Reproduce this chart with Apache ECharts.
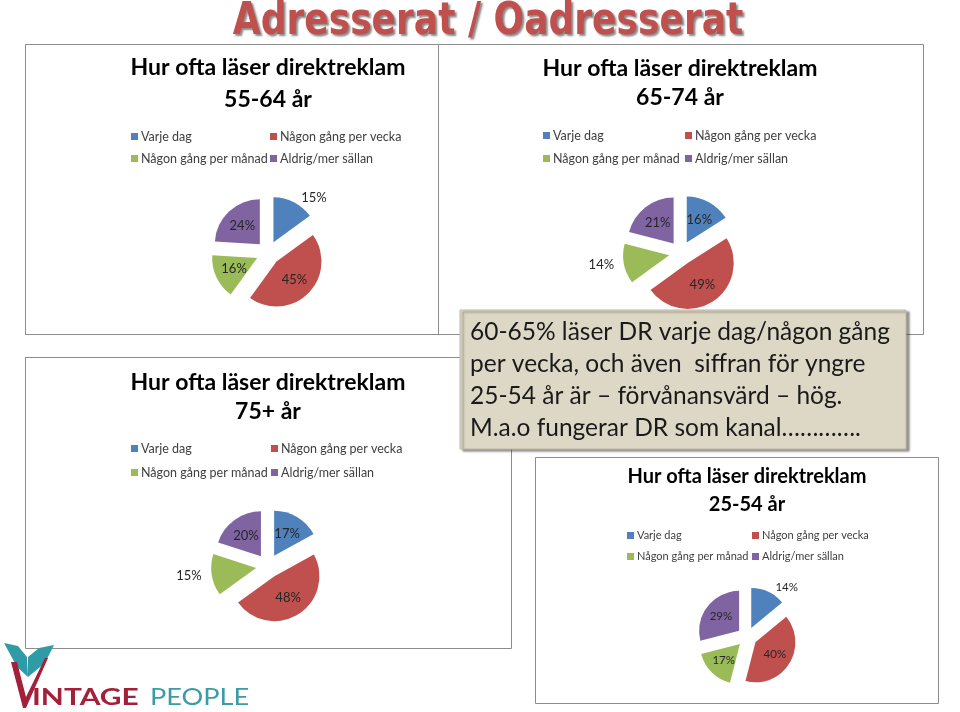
<!DOCTYPE html>
<html><head><meta charset="utf-8">
<script src="https://cdn.jsdelivr.net/npm/echarts@6/dist/echarts.min.js"></script>
<style>html,body{margin:0;padding:0;background:#fff}#main{width:960px;height:712px}</style>
</head><body><div id="main"></div>
<script>
// ---- data ----
const categories = ['Varje dag', 'Någon gång per vecka', 'Någon gång per månad', 'Aldrig/mer sällan'];
const share5564 = [15, 45, 16, 24];
const share6574 = [16, 49, 14, 21];
const share75 = [17, 48, 15, 20];
const share2554 = [14, 40, 17, 29];
const ageGroups = ['55-64 år', '65-74 år', '75+ år', '25-54 år'];
const chartTitle = 'Hur ofta läser direktreklam';
const pageTitle = 'Adresserat / Oadresserat';
const noteLines = [
  '60-65% läser DR varje dag/någon gång',
  'per vecka, och även  siffran för yngre',
  '25-54 år är – förvånansvärd – hög.',
  'M.a.o fungerar DR som kanal………….'
];
const logoWords = ['V', 'INTAGE', 'PEOPLE'];

// ---- styling / layout ----
const colors = ['#4f81bd', '#c0504d', '#9bbb59', '#8064a2'];
const FONT = 'Lato, "Open Sans", sans-serif';
const panels = [
  { age: ageGroups[0], values: share5564, rect: [25, 44, 486, 290], titleX: 268, titleY: [68, 100], titleSize: 23,
    legendX: [131, 270], legendY: [137, 159], legendSize: 12.5, center: [268, 253], r: 45, offset: 12, outside: [0] },
  { age: ageGroups[1], values: share6574, rect: [438, 44, 485, 290], titleX: 680, titleY: [69, 98], titleSize: 23,
    legendX: [543, 685], legendY: [136, 159], legendSize: 12.5, center: [681, 253], r: 46, offset: 12, outside: [2] },
  { age: ageGroups[2], values: share75, rect: [25, 357, 486, 291], titleX: 268, titleY: [383, 412], titleSize: 23,
    legendX: [131, 271], legendY: [449, 473], legendSize: 12.5, center: [268, 566], r: 45, offset: 12, outside: [2] },
  { age: ageGroups[3], values: share2554, rect: [535, 457, 403, 246], titleX: 747, titleY: [477, 505], titleSize: 20,
    legendX: [627, 752], legendY: [537, 558], legendSize: 11, center: [747, 637], r: 40, offset: 10, outside: [0] }
];

const chart = echarts.init(document.getElementById('main'), null, { renderer: 'canvas' });

const graphic = [];
const legends = [];
const series = [];

panels.forEach((p, pi) => {
  graphic.push({
    type: 'rect', z: pi, silent: true,
    shape: { x: p.rect[0] + 0.5, y: p.rect[1] + 0.5, width: p.rect[2], height: p.rect[3] },
    style: { fill: '#fff', stroke: '#8c8c8c', lineWidth: 1 }
  });
  [chartTitle, p.age].forEach((t, li) => {
    graphic.push({
      type: 'text', z: 5, silent: true,
      style: { text: t, x: p.titleX, y: p.titleY[li], align: 'center', verticalAlign: 'middle',
        fill: '#000', fontSize: p.titleSize, fontWeight: 'bold', fontFamily: FONT }
    });
  });
  categories.forEach((c, ci) => {
    const col = ci % 2, row = Math.floor(ci / 2);
    legends.push({
      data: [c], left: p.legendX[col], top: p.legendY[row] - 7, padding: 0,
      icon: 'rect', itemWidth: 7, itemHeight: 7, selectedMode: false,
      textStyle: { fontSize: p.legendSize, color: '#404040', fontFamily: FONT, padding: [0, 0, 0, -2] }
    });
  });
  series.push({
    type: 'pie', center: p.center, radius: p.r, startAngle: 90, clockwise: true,
    selectedMode: 'multiple', selectedOffset: p.offset, avoidLabelOverlap: false,
    z: 10,
    emphasis: { disabled: true },
    label: { show: true, position: 'inside', formatter: '{c}%', color: '#262626',
      fontSize: p.legendSize + 0.5, fontFamily: FONT },
    labelLine: { show: false, length: 5, length2: 0 },
    itemStyle: { borderWidth: 0 },
    data: categories.map((c, ci) => Object.assign({
      name: c, value: p.values[ci], selected: true, itemStyle: { color: colors[ci] }
    }, p.outside.includes(ci) ? { label: { position: 'outside' }, labelLine: { show: false } } : {}))
  });
});

// note box
graphic.push({
  type: 'rect', z: 50, silent: true,
  shape: { x: 460, y: 310, width: 446, height: 139 },
  style: { fill: '#dcd8c5', stroke: '#bdb9a6', lineWidth: 1,
    shadowBlur: 2, shadowOffsetX: 3, shadowOffsetY: 2, shadowColor: 'rgba(60,60,50,0.55)' }
});
noteLines.forEach((t, i) => {
  graphic.push({
    type: 'text', z: 51, silent: true,
    style: { text: t, x: 470, y: 332 + i * 32, align: 'left', verticalAlign: 'middle',
      fill: '#1a1a1a', fontSize: 24.5, fontFamily: FONT }
  });
});

// page title
graphic.push({
  type: 'text', z: 60, silent: true, x: 488, y: 22, scaleX: 0.89,
  style: { text: pageTitle, x: 0, y: 0, align: 'center', verticalAlign: 'middle',
    fill: '#c0504d', fontSize: 45, fontWeight: 'bold',
    fontFamily: '"Liberation Sans Narrow", "DejaVu Sans Condensed", "Liberation Sans", sans-serif',
    textShadowColor: 'rgba(60,60,60,0.6)', textShadowBlur: 2, textShadowOffsetX: 2, textShadowOffsetY: 2 }
});

// logo
graphic.push({
  type: 'polygon', z: 60, silent: true,
  shape: { points: [[4, 643], [18, 646], [27, 657], [28, 677], [17, 667]] },
  style: { fill: '#2f9ba7' }
});
graphic.push({
  type: 'polygon', z: 60, silent: true,
  shape: { points: [[28, 657], [39, 648], [54, 645], [45, 663], [28, 677]] },
  style: { fill: '#2f9ba7' }
});
graphic.push({
  type: 'polygon', z: 61, silent: true,
  shape: { points: [[11, 662], [17, 662], [26, 697], [45, 658], [48, 658], [26, 708], [23, 708]] },
  style: { fill: '#a3203a' }
});
graphic.push({
  type: 'text', z: 61, silent: true, x: 32, y: 698, scaleX: 1.3,
  style: { text: logoWords[1], x: 0, y: 0, align: 'left', verticalAlign: 'middle',
    fill: '#a3203a', fontSize: 23, fontWeight: 'bold', fontFamily: FONT }
});
graphic.push({
  type: 'text', z: 61, silent: true, x: 150, y: 698, scaleX: 1.18,
  style: { text: logoWords[2], x: 0, y: 0, align: 'left', verticalAlign: 'middle',
    fill: '#3a9ca7', fontSize: 23, fontFamily: FONT }
});

chart.setOption({
  animation: false,
  backgroundColor: '#fff',
  legend: legends,
  graphic: graphic,
  series: series
});
</script></body></html>
